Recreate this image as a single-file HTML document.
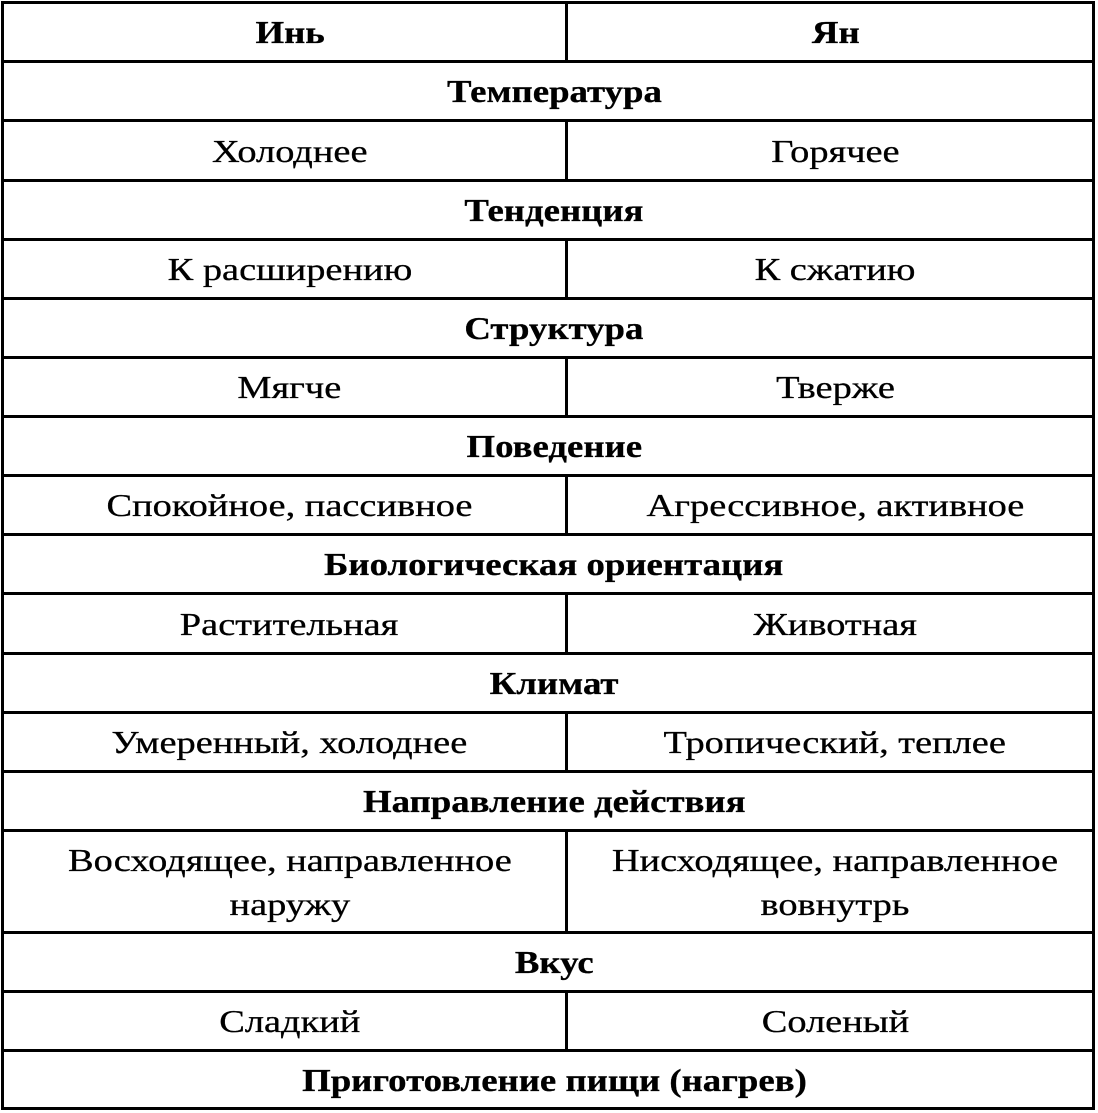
<!DOCTYPE html>
<html><head><meta charset="utf-8"><style>
body{margin:0;width:1098px;height:1113px;background:#fff;position:relative;overflow:hidden;font-family:"Liberation Serif","DejaVu Serif",serif;color:#000}
.h{position:absolute;left:1px;width:1094px;height:3px;background:#000}
.v{position:absolute;width:3px;background:#000}
.t{position:absolute;display:flex;align-items:center;justify-content:center;text-align:center;font-size:32px;line-height:44px}
.t span{display:inline-block;transform:translateX(5px) scaleX(1.2);white-space:nowrap;-webkit-text-stroke:0.3px #000}
.b{font-weight:bold}
.b span{transform:translateX(6px) scaleX(1.15)}
</style></head><body>
<div class="h" style="top:1px"></div><div class="h" style="top:60px"></div><div class="h" style="top:119px"></div><div class="h" style="top:179px"></div><div class="h" style="top:238px"></div><div class="h" style="top:297px"></div><div class="h" style="top:356px"></div><div class="h" style="top:415px"></div><div class="h" style="top:474px"></div><div class="h" style="top:533px"></div><div class="h" style="top:592px"></div><div class="h" style="top:652px"></div><div class="h" style="top:711px"></div><div class="h" style="top:770px"></div><div class="h" style="top:829px"></div><div class="h" style="top:931px"></div><div class="h" style="top:990px"></div><div class="h" style="top:1049px"></div><div class="h" style="top:1107px"></div>
<div class="v" style="left:1px;top:1px;height:1109px"></div>
<div class="v" style="left:1092px;top:1px;height:1109px"></div>
<div class="v" style="left:565px;top:1px;height:61px"></div>
<div class="v" style="left:565px;top:119px;height:62px"></div>
<div class="v" style="left:565px;top:238px;height:62px"></div>
<div class="v" style="left:565px;top:356px;height:62px"></div>
<div class="v" style="left:565px;top:474px;height:62px"></div>
<div class="v" style="left:565px;top:592px;height:62px"></div>
<div class="v" style="left:565px;top:711px;height:62px"></div>
<div class="v" style="left:565px;top:829px;height:104px"></div>
<div class="v" style="left:565px;top:990px;height:62px"></div>

<div class="t b" style="left:4px;width:561px;top:4px;height:56px"><span>Инь</span></div>
<div class="t b" style="left:568px;width:524px;top:4px;height:56px"><span>Ян</span></div>
<div class="t b" style="left:4px;width:1088px;top:63px;height:56px"><span>Температура</span></div>
<div class="t" style="left:4px;width:561px;top:122px;height:57px"><span>Холоднее</span></div>
<div class="t" style="left:568px;width:524px;top:122px;height:57px"><span>Горячее</span></div>
<div class="t b" style="left:4px;width:1088px;top:182px;height:56px"><span>Тенденция</span></div>
<div class="t" style="left:4px;width:561px;top:241px;height:56px"><span>К расширению</span></div>
<div class="t" style="left:568px;width:524px;top:241px;height:56px"><span>К сжатию</span></div>
<div class="t b" style="left:4px;width:1088px;top:300px;height:56px"><span>Структура</span></div>
<div class="t" style="left:4px;width:561px;top:359px;height:56px"><span>Мягче</span></div>
<div class="t" style="left:568px;width:524px;top:359px;height:56px"><span>Тверже</span></div>
<div class="t b" style="left:4px;width:1088px;top:418px;height:56px"><span>Поведение</span></div>
<div class="t" style="left:4px;width:561px;top:477px;height:56px"><span>Спокойное, пассивное</span></div>
<div class="t" style="left:568px;width:524px;top:477px;height:56px"><span>Агрессивное, активное</span></div>
<div class="t b" style="left:4px;width:1088px;top:536px;height:56px"><span>Биологическая ориентация</span></div>
<div class="t" style="left:4px;width:561px;top:595px;height:57px"><span>Растительная</span></div>
<div class="t" style="left:568px;width:524px;top:595px;height:57px"><span>Животная</span></div>
<div class="t b" style="left:4px;width:1088px;top:655px;height:56px"><span>Климат</span></div>
<div class="t" style="left:4px;width:561px;top:714px;height:56px"><span>Умеренный, холоднее</span></div>
<div class="t" style="left:568px;width:524px;top:714px;height:56px"><span>Тропический, теплее</span></div>
<div class="t b" style="left:4px;width:1088px;top:773px;height:56px"><span>Направление действия</span></div>
<div class="t" style="left:4px;width:561px;top:832px;height:99px"><span>Восходящее, направленное<br>наружу</span></div>
<div class="t" style="left:568px;width:524px;top:832px;height:99px"><span>Нисходящее, направленное<br>вовнутрь</span></div>
<div class="t b" style="left:4px;width:1088px;top:934px;height:56px"><span>Вкус</span></div>
<div class="t" style="left:4px;width:561px;top:993px;height:56px"><span>Сладкий</span></div>
<div class="t" style="left:568px;width:524px;top:993px;height:56px"><span>Соленый</span></div>
<div class="t b" style="left:4px;width:1088px;top:1052px;height:55px"><span>Приготовление пищи (нагрев)</span></div>
</body></html>
